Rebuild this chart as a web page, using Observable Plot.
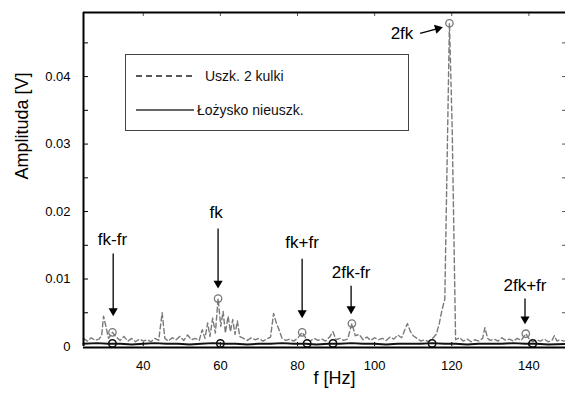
<!DOCTYPE html>
<html><head><meta charset="utf-8">
<script src="https://cdn.jsdelivr.net/npm/d3@7"></script>
<script src="https://cdn.jsdelivr.net/npm/@observablehq/plot@0.6"></script>
<style>
body{margin:0;background:#fff;}
#wrap{position:relative;width:565px;height:394px;font-family:"Liberation Sans",Arial,sans-serif;overflow:hidden;}
#legend{position:absolute;left:125px;top:54px;width:284px;height:77px;border:1.5px solid #444;box-sizing:border-box;background:#fff;}
#legend svg{display:block;}
</style></head><body>
<div id="wrap"><div id="chart"></div>
<div id="legend"><svg width="282" height="74">
<line x1="10" x2="68" y1="21" y2="21" stroke="#222" stroke-width="1.3" stroke-dasharray="6,4"/>
<text x="79" y="26" font-size="14" font-family="Liberation Sans" fill="#111">Uszk. 2 kulki</text>
<line x1="10" x2="68" y1="55" y2="55" stroke="#333" stroke-width="1.3"/>
<text x="71" y="60" font-size="14" font-family="Liberation Sans" fill="#111">Łożysko nieuszk.</text>
</svg></div>
</div>
<script>
// Damaged bearing (Uszk. 2 kulki) spectrum
const freqDamaged = [24.5,25.5,26.5,27.5,28.5,29.2,29.7,30.3,31.0,32.0,33.0,34.0,35.0,36.0,37.0,38.0,39.0,40.0,41.0,42.0,43.0,44.0,44.9,45.6,46.5,47.5,48.5,49.5,50.5,51.5,52.5,53.5,54.5,55.3,56.0,56.7,57.3,58.0,58.7,59.4,60.1,60.7,61.3,62.0,62.6,63.2,63.8,64.4,65.0,66.0,67.0,68.0,69.0,70.0,71.0,72.0,73.0,73.8,74.5,75.2,76.0,77.0,78.0,79.0,80.0,81.2,82.3,83.3,84.3,85.3,86.3,87.3,88.3,89.2,90.0,91.0,92.0,93.0,94.1,95.0,96.0,97.0,98.0,99.0,100.0,101.0,102.0,103.0,104.0,105.0,106.0,107.0,108.5,109.3,110.0,111.0,112.0,113.0,114.0,115.0,116.0,116.8,117.5,118.2,119.4,120.1,121.0,122.0,123.0,124.0,125.0,126.0,127.0,128.0,128.6,129.3,130.0,131.0,132.0,133.0,134.0,135.0,136.0,137.0,138.0,139.2,140.2,141.0,142.0,143.0,144.0,145.0,146.0,146.6,147.3,148.0,149.0,150.0];
const ampDamaged = [0.0012,0.0008,0.0013,0.0009,0.0011,0.0016,0.0045,0.0030,0.0012,0.0021,0.0014,0.0009,0.0015,0.0008,0.0012,0.0007,0.0011,0.0008,0.0010,0.0007,0.0012,0.0009,0.0050,0.0012,0.0008,0.0013,0.0010,0.0015,0.0009,0.0017,0.0010,0.0012,0.0009,0.0025,0.0012,0.0035,0.0015,0.0042,0.0020,0.0071,0.0030,0.0052,0.0020,0.0045,0.0022,0.0040,0.0018,0.0038,0.0015,0.0012,0.0009,0.0013,0.0010,0.0012,0.0008,0.0011,0.0014,0.0049,0.0035,0.0025,0.0012,0.0009,0.0011,0.0008,0.0012,0.0021,0.0011,0.0008,0.0012,0.0009,0.0011,0.0008,0.0014,0.0022,0.0010,0.0012,0.0009,0.0011,0.0034,0.0016,0.0018,0.0010,0.0014,0.0009,0.0013,0.0010,0.0012,0.0009,0.0014,0.0011,0.0017,0.0013,0.0034,0.0022,0.0016,0.0012,0.0008,0.0010,0.0007,0.0012,0.0018,0.0035,0.0055,0.0070,0.0479,0.0327,0.0010,0.0013,0.0008,0.0011,0.0007,0.0010,0.0008,0.0012,0.0028,0.0012,0.0009,0.0011,0.0008,0.0013,0.0009,0.0011,0.0008,0.0012,0.0009,0.0019,0.0010,0.0007,0.0010,0.0008,0.0011,0.0007,0.0009,0.0016,0.0008,0.0010,0.0008,0.0009];
// Healthy bearing (Łożysko nieuszk.)
const freqHealthy = [24.5,28,31,34,37,40,43,46,49,52,55,58,61,64,67,70,73,76,79,82,85,88,91,94,97,100,103,106,109,112,115,118,121,124,127,130,133,136,139,142,145,150];
const ampHealthy = [0.0004,0.0005,0.0004,0.0004,0.0003,0.0004,0.0005,0.0004,0.0004,0.0003,0.0004,0.0005,0.0004,0.0004,0.0003,0.0004,0.0004,0.0005,0.0004,0.0004,0.0003,0.0004,0.0004,0.0005,0.0004,0.0004,0.0003,0.0004,0.0004,0.0004,0.0005,0.0004,0.0004,0.0003,0.0004,0.0004,0.0004,0.0005,0.0004,0.0004,0.0003,0.0004];
// Circle markers
const markFreqDamaged = [32.0,59.4,81.2,94.1,119.4,139.2];
const markAmpDamaged = [0.0021,0.0071,0.0021,0.0034,0.0479,0.0019];
const markFreqHealthy = [32.0,60.0,82.5,89.2,114.9,141.0];
const markAmpHealthy = [0.00045,0.00045,0.00045,0.00045,0.00045,0.00045];
// Annotations
const annLabels = ["fk-fr","fk","fk+fr","2fk-fr","2fk","2fk+fr"];
const annTextX = [32.0,58.9,81.2,93.9,107.1,139.0];
const annTextY = [0.0159,0.0199,0.0154,0.0110,0.0464,0.0090];
const arrowX1 = [32.2,59.4,81.2,93.9,111.8,139.0];
const arrowY1 = [0.0138,0.0175,0.0130,0.0090,0.0464,0.0071];
const arrowX2 = [32.2,59.4,81.2,93.9,117.5,139.0];
const arrowY2 = [0.0046,0.0087,0.0043,0.0049,0.0473,0.0034];
// Ticks
const xTicks = [40,60,80,100,120,140];
const yTicks = [0,0.01,0.02,0.03,0.04];
const yMinorTicks = [0.005,0.01,0.015,0.02,0.025,0.03,0.035,0.04,0.045];

const xDomain = [24.5,149.5], yDomain = [0,0.0495];
const W = 565, H = 394, mL = 83, mR = 0, mT = 12, mB = 48;
const fw = W - mL - mR, fh = H - mT - mB;

const damaged = freqDamaged.map((f,i)=>({f, a: ampDamaged[i]}));
const healthy = freqHealthy.map((f,i)=>({f, a: ampHealthy[i]}));
const mDam = markFreqDamaged.map((f,i)=>({f, a: markAmpDamaged[i]}));
const mHea = markFreqHealthy.map((f,i)=>({f, a: markAmpHealthy[i]}));

const sx = d3.scaleLinear(xDomain, [mL, W - mR]);
const sy = d3.scaleLinear(yDomain, [H - mB, mT]);
const anns = annLabels.map((t,i)=>{
  const px1 = sx(arrowX1[i]), py1 = sy(arrowY1[i]), px2 = sx(arrowX2[i]), py2 = sy(arrowY2[i]);
  const len = Math.hypot(px2-px1, py2-py1), ux = (px2-px1)/len, uy = (py2-py1)/len;
  const hx = sx.invert(px2 - ux*4.5), hy = sy.invert(py2 - uy*4.5);
  return {t, tx: annTextX[i], ty: annTextY[i], x1: arrowX1[i], y1: arrowY1[i], hx, hy,
          rot: Math.atan2(uy, ux)*180/Math.PI + 90};
});

const chart = Plot.plot({
  width: W, height: H, marginLeft: mL, marginRight: mR, marginTop: mT, marginBottom: mB,
  x: {domain: xDomain}, y: {domain: yDomain},
  style: {fontFamily: "Liberation Sans", fontSize: "13px", background: "white", color: "black", overflow: "visible"},
  marks: [
    Plot.axisX(xTicks, {tickSize: 0, tickPadding: 14, fontSize: 13, label: null}),
    Plot.axisY(yTicks, {tickSize: 0, tickPadding: 13, fontSize: 13, label: null, tickFormat: d => String(d)}),
    Plot.text(["Amplituda [V]"], {frameAnchor: "left", dx: -61, rotate: -90, fontSize: 18}),
    Plot.text(["f [Hz]"], {frameAnchor: "bottom", dy: 37, dx: 10, fontSize: 18}),
    // inward ticks
    Plot.tickY(yMinorTicks, {y: d=>d, insetRight: fw - 5, stroke: "black", strokeWidth: 1}),
    Plot.tickY(yMinorTicks, {y: d=>d, insetLeft: fw - 3, stroke: "#555", strokeWidth: 1}),
    Plot.tickX(xTicks, {x: d=>d, insetBottom: fh - 4, stroke: "#555", strokeWidth: 1}),
    Plot.tickX(xTicks, {x: d=>d, insetTop: fh - 4, stroke: "black", strokeWidth: 1}),
    // data
    Plot.line(damaged, {x: "f", y: "a", stroke: "#7a7a7a", strokeWidth: 1.4, strokeDasharray: "5,3"}),
    Plot.line(healthy, {x: "f", y: "a", stroke: "#111", strokeWidth: 2}),
    Plot.dot(mDam, {x: "f", y: "a", r: 3.7, stroke: "#777", strokeWidth: 1.3, fill: "none"}),
    Plot.dot(mHea, {x: "f", y: "a", r: 3.7, stroke: "#111", strokeWidth: 1.6, fill: "none"}),
    // frame
    Plot.ruleY([yDomain[0]], {stroke: "black", strokeWidth: 2, dy: 1}),
    Plot.ruleY([yDomain[1]], {stroke: "black", strokeWidth: 2}),
    Plot.ruleX([xDomain[0]], {stroke: "black", strokeWidth: 2}),
    // annotations
    Plot.link(anns, {x1: "x1", y1: "y1", x2: "hx", y2: "hy", stroke: "black", strokeWidth: 1.3}),
    Plot.dot(anns, {x: "hx", y: "hy", symbol: "triangle", r: 3.4, fill: "black", stroke: "none", rotate: "rot"}),
    Plot.text(anns, {x: "tx", y: "ty", text: "t", fontSize: 17, fill: "black"})
  ]
});
document.getElementById("chart").appendChild(chart);
</script>
</body></html>
